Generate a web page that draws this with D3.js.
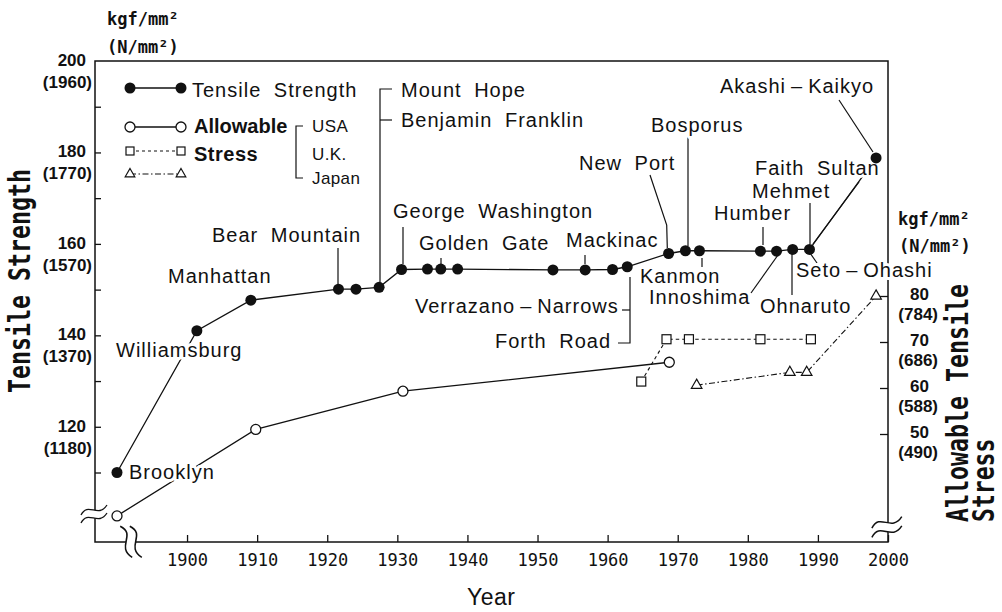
<!DOCTYPE html>
<html lang="en">
<head>
<meta charset="UTF-8">
<title>Tensile strength of bridge wire</title>
<script src="https://cdn.jsdelivr.net/npm/d3@7/dist/d3.min.js"></script>
<style>
  body { margin: 0; background: #fff; }
  svg { display: block; background: #fff; }
  .lbl {
    font-family: "Liberation Sans", Arial, sans-serif;
    font-size: 20px; letter-spacing: 1px; word-spacing: 6px;
    fill: #111; paint-order: stroke; stroke: #fff; stroke-width: 6px; stroke-linejoin: round;
  }
  .bold { font-family: "Liberation Sans", Arial, sans-serif; font-weight: bold; font-size: 20px; fill: #111; }
  .small { font-family: "Liberation Sans", Arial, sans-serif; font-size: 17px; letter-spacing: 0.4px; fill: #111; }
  .num { font-family: "Liberation Sans", Arial, sans-serif; font-weight: bold; font-size: 17px; fill: #111; }
  .unit { font-family: "DejaVu Sans Mono", monospace; font-weight: bold; font-size: 17px; fill: #111; }
  .title { font-family: "DejaVu Sans Mono", monospace; font-weight: bold; font-size: 31px; fill: #111; }
  .axis text { font-family: "DejaVu Sans Mono", monospace; font-size: 17px; fill: #111; }
  .axis line { stroke: #111; stroke-width: 1.3px; }
  .axis path { display: none; }
  .frame { fill: none; stroke: #111; stroke-width: 1.5px; }
  .line { fill: none; stroke: #111; stroke-width: 1.3px; }
  .lead { fill: none; stroke: #111; stroke-width: 1.2px; }
</style>
</head>
<body>
<div id="chart"></div>
<script>
  var width = 1002, height = 612;
  var xLeft = 95, xRight = 888, yTop = 61, yBottom = 542;

  // tensile strength of cable wire, kgf/mm2 (filled circles)
  var tsYears  = [1883, 1901.4, 1909.1, 1921.6, 1924.1, 1927.4, 1930.6, 1934.3, 1936.2, 1938.6, 1952.2,
                  1956.8, 1960.7, 1962.8, 1968.7, 1971.1, 1973.1, 1981.8, 1984.1, 1986.4, 1988.8, 1998.3];
  var tsValues = [110, 141, 147.7, 150.1, 150.1, 150.5, 154.4, 154.5, 154.5, 154.5, 154.3,
                  154.3, 154.4, 155, 157.9, 158.5, 158.5, 158.4, 158.4, 158.8, 158.8, 178.8];

  // allowable tensile stress, kgf/mm2 (right axis)
  var usaYears = [1883, 1909.8, 1930.8, 1968.8];
  var usaValues = [32.2, 51.0, 59.3, 65.6];
  var ukYears = [1964.8, 1968.4, 1971.6, 1981.8, 1989.0];
  var ukValues = [61.4, 70.6, 70.6, 70.6, 70.6];
  var jpYears = [1972.7, 1986.0, 1988.4, 1998.3];
  var jpValues = [60.6, 63.4, 63.4, 80];

  var yearTicks = [1900, 1910, 1920, 1930, 1940, 1950, 1960, 1970, 1980, 1990, 2000];
  var leftMinor = [110, 120, 130, 140, 150, 160, 170, 180, 190];
  var leftTicks = [120, 140, 160, 180, 200];
  var leftTicksSI = ['(1180)', '(1370)', '(1570)', '(1770)', '(1960)'];
  var rightTicks = [50, 60, 70, 80];
  var rightTicksSI = ['(490)', '(588)', '(686)', '(784)'];

  // bridge names: label text, label anchor (px)
  var labels = [
    ['Brooklyn', 129, 479], ['Williamsburg', 116, 357], ['Manhattan', 168, 283],
    ['Bear Mountain', 212, 242], ['Mount Hope', 401, 97], ['Benjamin Franklin', 401, 127],
    ['George Washington', 393, 218], ['Golden Gate', 419, 250], ['Mackinac', 566, 247],
    ['New Port', 579, 170], ['Bosporus', 651, 132], ['Akashi\u2009\u2013\u2009Kaikyo', 720, 93],
    ['Faith Sultan', 755, 175], ['Mehmet', 752, 198], ['Humber', 714, 220],
    ['Kanmon', 640, 283], ['Innoshima', 649, 304], ['Ohnaruto', 760, 313],
    ['Seto\u2009\u2013\u2009Ohashi', 796, 277], ['Verrazano\u2009\u2013\u2009Narrows', 415, 313],
    ['Forth Road', 495, 348]
  ];
  var leaders = [
    [[392, 89], [380, 89], [380, 282]], [[380, 120], [392, 120]],
    [[338, 248], [338, 284]], [[403, 227], [403, 264]], [[441, 258], [441, 264]],
    [[585, 255], [585, 264]], [[650, 175], [666.7, 225], [667.3, 248]],
    [[688, 137], [688, 246]], [[839, 100], [873, 152]], [[810, 203], [810, 244]],
    [[859, 182], [813, 244]], [[763, 227], [763, 245]], [[702, 258], [702, 267]],
    [[751, 293], [778, 255]], [[792, 253], [792, 295]], [[810, 253], [817, 263]],
    [[630, 277], [630, 343], [618, 343]], [[622, 310], [630, 310]]
  ];

  var svg = d3.select('#chart').append('svg')
    .attr('width', width).attr('height', height);

  var x = d3.scaleLinear().domain([1883, 1895, 2000]).range([117, 152, xRight]);
  var yL = d3.scaleLinear().domain([94.8, 200]).range([yBottom, yTop]);
  var yR = d3.scaleLinear().domain([50, 80]).range([434, 296]);

  // frame + axes
  svg.append('rect').attr('class', 'frame')
    .attr('x', xLeft).attr('y', yTop).attr('width', xRight - xLeft).attr('height', yBottom - yTop);

  svg.append('g').attr('class', 'axis')
    .attr('transform', 'translate(0,' + yBottom + ')')
    .call(d3.axisBottom(x).tickValues(yearTicks).tickSizeInner(-7).tickSizeOuter(0)
      .tickPadding(12).tickFormat(d3.format('d')));

  svg.append('g').attr('class', 'axis')
    .attr('transform', 'translate(' + xLeft + ',0)')
    .call(d3.axisLeft(yL).tickValues(leftMinor).tickSizeInner(-6).tickSizeOuter(0).tickFormat(''));

  svg.append('g').attr('class', 'axis')
    .attr('transform', 'translate(' + xRight + ',0)')
    .call(d3.axisRight(yR).tickValues(rightTicks).tickSizeInner(-8).tickSizeOuter(0).tickFormat(''));

  leftTicks.forEach(function(v, i) {
    svg.append('text').attr('class', 'num').attr('text-anchor', 'end')
      .attr('x', 86).attr('y', yL(v) + 5).text(v);
    svg.append('text').attr('class', 'num').attr('text-anchor', 'end')
      .attr('x', 92).attr('y', yL(v) + 27).text(leftTicksSI[i]);
  });
  rightTicks.forEach(function(v, i) {
    svg.append('text').attr('class', 'num').attr('text-anchor', 'end')
      .attr('x', 929).attr('y', yR(v) + 4).text(v);
    svg.append('text').attr('class', 'num').attr('text-anchor', 'end')
      .attr('x', 938).attr('y', yR(v) + 24).text(rightTicksSI[i]);
  });

  // axis breaks
  function brk(cx, cy, rot, s) {
    var g = svg.append('g').attr('transform', 'translate(' + cx + ',' + cy + ') rotate(' + rot + ') scale(' + s + ')');
    var c = 'M-14,5 C-7,-9 3,9 12,-5';
    g.append('path').attr('d', c).attr('fill', 'none').attr('stroke', '#fff').attr('stroke-width', 8);
    g.append('path').attr('d', c).attr('transform', 'translate(0,-4)').attr('class', 'line');
    g.append('path').attr('d', c).attr('transform', 'translate(0,4)').attr('class', 'line');
  }
  brk(xLeft, 514, 0, 1);
  brk(xRight, 527, 0, 1.15);
  brk(131, yBottom + 1, 90, 1.2);

  // series lines
  function pts(xs, ys, sc) { return xs.map(function(d, i) { return [x(d), sc(ys[i])]; }); }
  var ts = pts(tsYears, tsValues, yL), usa = pts(usaYears, usaValues, yR),
      uk = pts(ukYears, ukValues, yR), jp = pts(jpYears, jpValues, yR);
  var ln = d3.line();
  svg.append('path').attr('class', 'line').attr('d', ln(ts));
  svg.append('path').attr('class', 'line').attr('d', ln(usa));
  svg.append('path').attr('class', 'line').attr('d', ln(uk)).style('stroke-dasharray', '3.5,3').style('stroke-width', '1.1px');
  svg.append('path').attr('class', 'line').attr('d', ln(jp)).style('stroke-dasharray', '6,2.5,1.5,2.5').style('stroke-width', '1.1px');

  // leaders and labels
  leaders.forEach(function(p) { svg.append('path').attr('class', 'lead').attr('d', ln(p)); });
  labels.forEach(function(l) {
    svg.append('text').attr('class', 'lbl').attr('x', l[1]).attr('y', l[2]).text(l[0]);
  });

  // markers
  svg.selectAll('.dot').data(ts).enter().append('circle').attr('class', 'dot')
    .attr('cx', function(d) { return d[0]; }).attr('cy', function(d) { return d[1]; })
    .attr('r', 5.5).attr('fill', '#111');
  svg.selectAll('.ring').data(usa).enter().append('circle').attr('class', 'ring')
    .attr('cx', function(d) { return d[0]; }).attr('cy', function(d) { return d[1]; })
    .attr('r', 5).attr('fill', '#fff').attr('stroke', '#111').attr('stroke-width', 1.3);
  svg.selectAll('.sq').data(uk).enter().append('rect').attr('class', 'sq')
    .attr('x', function(d) { return d[0] - 4.5; }).attr('y', function(d) { return d[1] - 4.5; })
    .attr('width', 9).attr('height', 9).attr('fill', '#fff').attr('stroke', '#111').attr('stroke-width', 1.2);
  var tri = d3.symbol().type(d3.symbolTriangle).size(48);
  svg.selectAll('.tri').data(jp).enter().append('path').attr('class', 'tri')
    .attr('transform', function(d) { return 'translate(' + d[0] + ',' + d[1] + ')'; })
    .attr('d', tri).attr('fill', '#fff').attr('stroke', '#111').attr('stroke-width', 1.2);

  // legend
  var lg = svg.append('g');
  lg.append('line').attr('class', 'line').attr('x1', 130).attr('x2', 181).attr('y1', 88).attr('y2', 88);
  lg.selectAll('.ld').data([130, 181]).enter().append('circle')
    .attr('cx', function(d) { return d; }).attr('cy', 88).attr('r', 5.5).attr('fill', '#111');
  lg.append('text').attr('class', 'lbl').attr('x', 192).attr('y', 97).text('Tensile Strength');

  lg.append('line').attr('class', 'line').attr('x1', 130).attr('x2', 181).attr('y1', 127).attr('y2', 127);
  lg.selectAll('.lr').data([130, 181]).enter().append('circle')
    .attr('cx', function(d) { return d; }).attr('cy', 127).attr('r', 5).attr('fill', '#fff')
    .attr('stroke', '#111').attr('stroke-width', 1.3);

  lg.append('line').attr('class', 'line').attr('x1', 130).attr('x2', 181).attr('y1', 151).attr('y2', 151)
    .style('stroke-dasharray', '3,3').style('stroke-width', '1.1px');
  lg.selectAll('.ls').data([130, 181]).enter().append('rect')
    .attr('x', function(d) { return d - 4; }).attr('y', 147).attr('width', 8).attr('height', 8)
    .attr('fill', '#fff').attr('stroke', '#111').attr('stroke-width', 1.2);

  lg.append('line').attr('class', 'line').attr('x1', 130).attr('x2', 181).attr('y1', 174).attr('y2', 174)
    .style('stroke-dasharray', '6,2.5,1.5,2.5').style('stroke-width', '1.1px');
  lg.selectAll('.lt').data([130, 181]).enter().append('path')
    .attr('transform', function(d) { return 'translate(' + d + ',174)'; })
    .attr('d', d3.symbol().type(d3.symbolTriangle).size(40)).attr('fill', '#fff')
    .attr('stroke', '#111').attr('stroke-width', 1.2);

  lg.append('text').attr('class', 'bold').attr('x', 194).attr('y', 133).text('Allowable');
  lg.append('text').attr('class', 'bold').attr('x', 194).attr('y', 161).style('letter-spacing', '0.5px').text('Stress');
  lg.append('path').attr('class', 'lead').attr('d', 'M303,126H296V178H303');
  lg.append('text').attr('class', 'small').attr('x', 312).attr('y', 132).text('USA');
  lg.append('text').attr('class', 'small').attr('x', 312).attr('y', 160).text('U.K.');
  lg.append('text').attr('class', 'small').attr('x', 312).attr('y', 184).text('Japan');

  // units and titles
  svg.append('text').attr('class', 'unit').attr('x', 107).attr('y', 25).text('kgf/mm\u00b2');
  svg.append('text').attr('class', 'unit').attr('x', 107).attr('y', 53).text('(N/mm\u00b2)');
  svg.append('text').attr('class', 'unit').attr('x', 898).attr('y', 225).text('kgf/mm\u00b2');
  svg.append('text').attr('class', 'unit').attr('x', 899).attr('y', 252).text('(N/mm\u00b2)');

  svg.append('text').attr('class', 'title')
    .attr('transform', 'translate(30,393) rotate(-90) scale(0.75,1)').text('Tensile Strength');
  svg.append('text').attr('class', 'title')
    .attr('transform', 'translate(968,522) rotate(-90) scale(0.75,1)').text('Allowable Tensile');
  svg.append('text').attr('class', 'title').style('font-size', '30px')
    .attr('transform', 'translate(994,522) rotate(-90) scale(0.77,1)').text('Stress');

  svg.append('text').attr('x', 467).attr('y', 605)
    .style('font-family', '"Liberation Sans", Arial, sans-serif').style('font-size', '23px')
    .style('letter-spacing', '0.5px').style('fill', '#111').text('Year');
</script>
</body>
</html>
